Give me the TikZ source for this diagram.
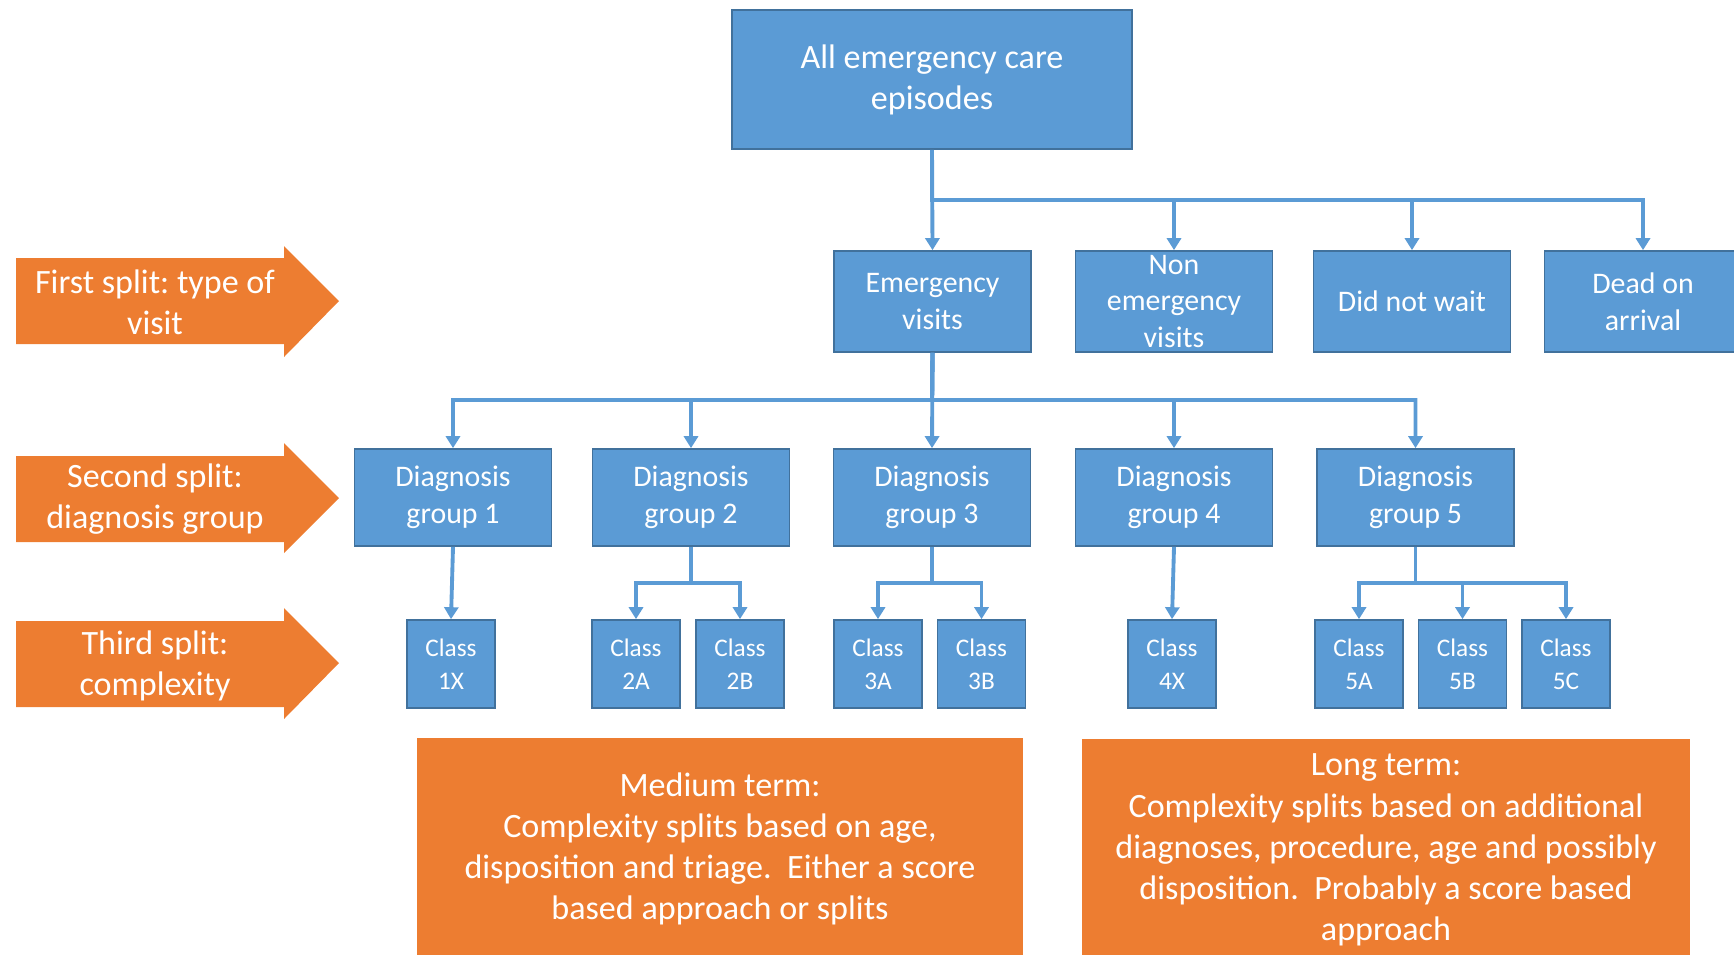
\documentclass[tikz,border=0pt]{standalone}
\usepackage{fontspec}
\setmainfont{Carlito}
\usepackage{tikz}
\usetikzlibrary{arrows.meta}
\frenchspacing
\definecolor{boxblue}{HTML}{5B9BD5}
\definecolor{boxedge}{HTML}{41719C}
\definecolor{splitorange}{HTML}{ED7D31}
\tikzstyle{cat} = [rectangle, fill=boxblue, draw=boxedge, line width=0.5pt, text=white,
align=center, inner sep=0pt, minimum width=19.7mm, minimum height=10.1mm,
font=\fontsize{8.5}{10.4}\selectfont]
\tikzstyle{cls} = [cat, minimum width=8.8mm, minimum height=8.8mm,
font=\fontsize{7.2}{9.4}\selectfont]
\tikzstyle{arrow} = [boxblue, line width=1.1pt, -{Triangle[width=4pt,length=3.4pt]}]
\tikzstyle{note} = [rectangle, fill=splitorange, text=white, align=center, inner sep=0pt,
font=\fontsize{9.7}{11.7}\selectfont]

\begin{document}
\begin{tikzpicture}[x=0.1mm, y=-0.1mm]
  \useasboundingbox (0,0) rectangle (1734,954);

  % split arrows on the left
  \fill[splitorange] (16,258) -- (284,258) -- (284,246) -- (339,301) -- (284,357)
  -- (284,344) -- (16,344) -- cycle;
  \node (split1) at (155,302) [note] {First split: type of\\visit};
  \fill[splitorange] (16,456) -- (284,456) -- (284,443) -- (339,498) -- (284,553)
  -- (284,542) -- (16,542) -- cycle;
  \node (split2) at (155,499) [note] {Second split:\\diagnosis group};
  \fill[splitorange] (16,621) -- (284,621) -- (284,608) -- (339,663) -- (284,719)
  -- (284,707) -- (16,707) -- cycle;
  \node (split3) at (155,666) [note] {Third split:\\complexity};

  % tree
  \node (all) at (932,79.5) [cat, minimum width=40mm, minimum height=13.9mm,
  font=\fontsize{9.7}{11.7}\selectfont] {All emergency care\\episodes};

  \node (emerg) at (932.5,301.5) [cat] {Emergency\\visits};
  \node (nonemerg) at (1174,301.5) [cat] {Non\\emergency\\visits};
  \node (dnw) at (1412,301.5) [cat] {Did not wait};
  \node (doa) at (1643,301.5) [cat] {Dead on\\arrival};

  \node (dg1) at (453,497.5) [cat, minimum height=9.7mm] {Diagnosis\\group 1};
  \node (dg2) at (691,497.5) [cat, minimum height=9.7mm] {Diagnosis\\group 2};
  \node (dg3) at (932,497.5) [cat, minimum height=9.7mm] {Diagnosis\\group 3};
  \node (dg4) at (1174,497.5) [cat, minimum height=9.7mm] {Diagnosis\\group 4};
  \node (dg5) at (1415.5,497.5) [cat, minimum height=9.7mm] {Diagnosis\\group 5};

  \node (c1x) at (451,664) [cls] {Class\\1X};
  \node (c2a) at (636,664) [cls] {Class\\2A};
  \node (c2b) at (740,664) [cls] {Class\\2B};
  \node (c3a) at (878,664) [cls] {Class\\3A};
  \node (c3b) at (981.5,664) [cls] {Class\\3B};
  \node (c4x) at (1172,664) [cls] {Class\\4X};
  \node (c5a) at (1359,664) [cls] {Class\\5A};
  \node (c5b) at (1462.5,664) [cls] {Class\\5B};
  \node (c5c) at (1566,664) [cls] {Class\\5C};

  % notes at the bottom
  \node (medium) at (720,849) [note, minimum width=60.6mm, minimum height=22.2mm]
  {Medium term:\\Complexity splits based on age,\\disposition and triage.~ Either a score\\based approach or splits};
  \node (long) at (1386,850) [note, minimum width=60.8mm, minimum height=22.2mm]
  {Long term:\\Complexity splits based on additional\\diagnoses, procedure, age and possibly\\disposition.~ Probably a score based\\approach};

  % connectors
  \coordinate (fork1) at (932,200);
  \coordinate (fork2) at (932,400);
  \coordinate (fork3) at (691,583);
  \coordinate (fork4) at (932,583);
  \coordinate (fork5) at (1415.5,583);

  \draw[arrow] (all.south) -- (emerg.north);
  \draw[arrow] (all.south) -- (fork1) -| (nonemerg.north);
  \draw[arrow] (all.south) -- (fork1) -| (dnw.north);
  \draw[arrow] (all.south) -- (fork1) -| (doa.north);

  \draw[arrow] (emerg.south) -- (fork2) -| (dg1.north);
  \draw[arrow] (emerg.south) -- (fork2) -| (dg2.north);
  \draw[arrow] (emerg.south) -- (dg3.north);
  \draw[arrow] (emerg.south) -- (fork2) -| (dg4.north);
  \draw[arrow] (emerg.south) -- (fork2) -| (dg5.north);

  \draw[arrow] (dg1.south) -- (c1x.north);
  \draw[arrow] (dg2.south) -- (fork3) -| (c2a.north);
  \draw[arrow] (dg2.south) -- (fork3) -| (c2b.north);
  \draw[arrow] (dg3.south) -- (fork4) -| (c3a.north);
  \draw[arrow] (dg3.south) -- (fork4) -| (c3b.north);
  \draw[arrow] (dg4.south) -- (c4x.north);
  \draw[arrow] (dg5.south) -- (fork5) -| (c5a.north);
  \draw[arrow] (dg5.south) -- (fork5) -| (c5b.north);
  \draw[arrow] (dg5.south) -- (fork5) -| (c5c.north);

\end{tikzpicture}
\end{document}
